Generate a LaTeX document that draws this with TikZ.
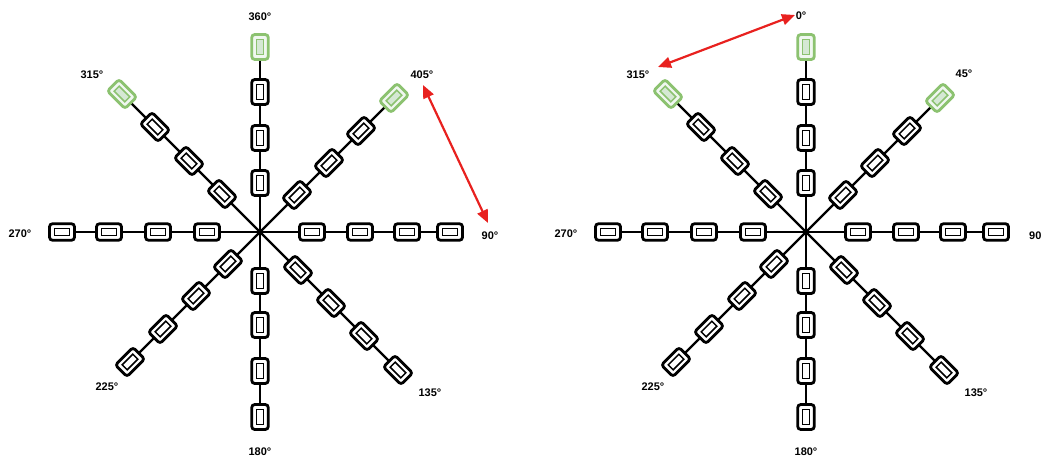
\documentclass[tikz,border=0pt]{standalone}
\usepackage{fontspec}
\setmainfont{Liberation Sans}
\usetikzlibrary{arrows.meta}
\definecolor{gstroke}{HTML}{8CC270}
\definecolor{gfill}{HTML}{D5E8D4}
\definecolor{redarrow}{HTML}{E8211F}
\tikzset{
 spoke/.style={line width=2.2pt, draw=black},
 outerbox/.style={draw=black, fill=white, line width=2.8pt, rounded corners=3pt, minimum width=25pt, minimum height=16.5pt, inner sep=0pt, outer sep=0pt},
 innerbox/.style={draw=black, fill=white, line width=1.5pt, minimum width=15pt, minimum height=7pt, inner sep=0pt, outer sep=0pt},
 gouter/.style={outerbox, draw=gstroke, fill=gfill!35},
 ginner/.style={innerbox, draw=gstroke, fill=gfill},
 deglabel/.style={font=\bfseries\fontsize{11}{13}\selectfont, inner sep=0pt},
 redarr/.style={draw=redarrow, line width=2.2pt, {Triangle[length=13pt,width=11pt]}-{Triangle[length=13pt,width=11pt]}},
}
\begin{document}
\begin{tikzpicture}[x=1pt,y=-1pt]
\useasboundingbox (0,0) rectangle (1041,460);
\clip (0,0) rectangle (1041,460);
\foreach \cx/\pre in {260/L, 806/R}{
  \coordinate (\pre c) at (\cx,232);
  \foreach \dn/\ux/\uy/\rot/\da/\db/\dc/\dd/\green in {
      N/0/-1/90/49/94/140/185/1,
      S/0/1/90/49/93/139/185/0,
      E/1/0/0/52/100/147/190/0,
      W/-1/0/0/53/102/151/198/0,
      NE/1/-1/45/37/69/101/134/1,
      SE/1/1/-45/38/71/104/138/0,
      SW/-1/1/45/32/64/97/130/0,
      NW/-1/-1/-45/38/71/105/138/1}{
    \coordinate (\pre\dn end) at ({\cx+\ux*\dd},{232+\uy*\dd});
    \draw[spoke] (\pre c) -- (\pre\dn end);
    \foreach \d [count=\i] in {\da,\db,\dc,\dd}{
      \pgfmathtruncatemacro{\isg}{and(\i==4,\green==1)}
      \ifnum\isg=1 \def\os{gouter}\def\is{ginner}\else\def\os{outerbox}\def\is{innerbox}\fi
      \node[\os, rotate=\rot] (\pre\dn\i) at ({\cx+\ux*\d},{232+\uy*\d}) {};
      \node[\is, rotate=\rot] (\pre\dn\i in) at (\pre\dn\i.center) {};
    }
  }
}
% left labels
\node[deglabel] (l360) at (260,17) {360°};
\node[deglabel] (l405) at (422,75) {405°};
\node[deglabel] (l90) at (490,236) {90°};
\node[deglabel] (l135) at (430,393) {135°};
\node[deglabel] (l180) at (260,452) {180°};
\node[deglabel] (l225) at (107,387) {225°};
\node[deglabel] (l270) at (20,234) {270°};
\node[deglabel] (l315) at (92,75) {315°};
% right labels
\node[deglabel] (r0) at (801,16) {0°};
\node[deglabel] (r45) at (964,74) {45°};
\node[deglabel, anchor=west] (r90) at (1029,236) {90°};
\node[deglabel] (r135) at (976,393) {135°};
\node[deglabel] (r180) at (806,452) {180°};
\node[deglabel] (r225) at (653,387) {225°};
\node[deglabel] (r270) at (566,234) {270°};
\node[deglabel] (r315) at (638,75) {315°};
% red arrows
\coordinate (La1) at (423,85);
\coordinate (La2) at (488,223);
\draw[redarr] (La1) -- (La2);
\coordinate (Ra1) at (795,15);
\coordinate (Ra2) at (658,67);
\draw[redarr] (Ra1) -- (Ra2);
\end{tikzpicture}
\end{document}
